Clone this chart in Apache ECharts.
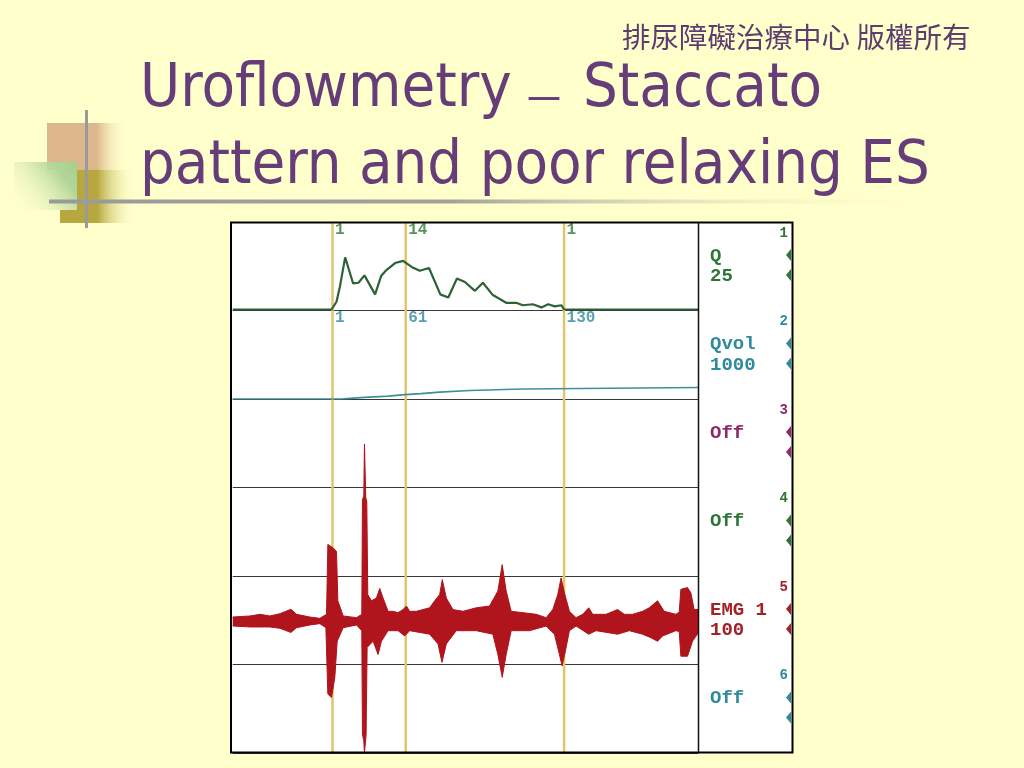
<!DOCTYPE html>
<html><head><meta charset="utf-8">
<script src="https://cdn.jsdelivr.net/npm/echarts@6/dist/echarts.min.js"></script>
<style>html,body{margin:0;padding:0;background:#ffffcc}#c{width:1024px;height:768px}</style>
</head><body><div id="c"></div>
<script>
// ---------- data (time in s) ----------
const flowTime = [0, 14.86, 15.6, 16.1, 16.9, 18.1, 18.9, 19.8, 21.4, 22.3, 23.1, 24.4, 25.6, 26.9, 28.1, 29.5, 31.2, 32.4, 33.7, 34.9, 36.4, 37.6, 39.1, 41.1, 42.6, 43.6, 45.1, 46.4, 47.4, 48.4, 49.4, 49.8, 70];
const flowRate = [0, 0, 2.2, 6.4, 14.8, 7.4, 7.6, 9.7, 4.3, 9.5, 11.2, 13.2, 13.8, 12.1, 11.0, 11.8, 4.3, 3.4, 8.8, 7.8, 5.3, 7.6, 4.1, 1.9, 1.9, 1.2, 1.5, 0.6, 1.5, 0.9, 1.2, 0, 0];

const volTime  = [0, 15.1, 16.6, 19.8, 23.4, 25.9, 28.3, 31.1, 35.6, 43.5, 70];
const volValue = [0, 1, 18, 33, 50, 61, 78, 96, 113, 130, 130];

const emgUpTime = [0, 2.6, 4.1, 5.6, 7.1, 8.75, 9.6, 11.6, 13.1, 14.1, 14.3, 15.1, 15.6, 15.8, 16.6, 18.6, 19.4, 19.5, 19.7, 19.8, 19.9, 20.0, 20.15, 20.3, 20.85, 21.6, 22.1, 22.6, 23.35, 24.1, 24.85, 25.6, 26.1, 26.6, 27.6, 29.6, 30.35, 31.1, 31.5, 32.1, 33.1, 34.6, 36.6, 38.6, 39.85, 40.5, 41.1, 41.85, 43.6, 45.6, 47.1, 48.1, 48.85, 49.35, 49.85, 50.6, 51.6, 52.6, 53.5, 54.1, 56.1, 57.85, 58.85, 60.1, 61.6, 62.6, 63.85, 64.85, 66.6, 67.1, 67.35, 68.35, 68.85, 69.35, 70];
const emgUp     = [4.5, 5.7, 7.6, 5.7, 8.3, 13.3, 7.6, 4.5, 3, 7.6, 87, 83, 79, 23, 5.7, 3.8, 7.6, 138, 142, 201, 201, 140, 136, 30, 23, 26, 37, 26, 11, 11, 9.5, 13, 17, 11, 11, 15, 23, 30, 47, 26, 13, 11, 15, 17, 34, 64, 34, 11, 9.5, 7.6, 3.8, 13, 30, 49, 32, 11, 3.8, 7.6, 15, 7.6, 7.6, 13, 7.6, 7.6, 11, 15, 23, 11, 7.6, 10, 36, 38, 32, 13, 13];

const emgLowTime = [0, 2.6, 5.6, 7.1, 8.75, 9.6, 11.6, 13.1, 14.0, 14.3, 14.85, 15.35, 15.7, 16.6, 18.6, 19.4, 19.5, 19.7, 19.8, 19.95, 20.05, 20.2, 21.1, 21.85, 22.35, 23.35, 24.85, 25.85, 26.6, 29.6, 30.85, 31.45, 32.1, 33.6, 36.6, 39.1, 39.85, 40.5, 41.1, 41.85, 44.6, 47.1, 48.35, 49.1, 49.5, 50.0, 50.6, 51.6, 53.5, 54.6, 57.85, 59.6, 61.6, 62.85, 63.85, 64.6, 66.6, 67.1, 67.35, 68.35, 69.1, 70];
const emgLow     = [-5.7, -6.8, -6.8, -8.3, -13, -7.6, -4.5, -3, -7.6, -83, -87, -64, -23, -7.6, -4.5, -11, -129, -136, -150, -150, -129, -30, -23, -38, -23, -11, -11, -17, -11, -15, -26, -47, -26, -11, -11, -15, -38, -64, -38, -11, -11, -5.7, -15, -38, -51, -34, -11, -5.7, -15, -11, -15, -11, -15, -19, -23, -17, -11, -12, -40, -40, -23, -13];

const cursorTimes = [15, 26, 49.8];
const cursorFlowLabels = ['1', '14', '1'];
const cursorVolLabels = ['1', '61', '130'];

const channelNames = [['Q', '25'], ['Qvol', '1000'], ['Off'], ['Off'], ['EMG 1', '100'], ['Off']];
const channelNumbers = ['1', '2', '3', '4', '5', '6'];
const channelColors = ['#2f7536', '#2f8a9c', '#8e2a6c', '#2f7536', '#a42126', '#2f8a9c'];

// ---------- layout ----------
const PLOT_L = 232.7, PLOT_R = 698.5, PANEL_T = 222, PANEL_B = 753, PANEL_R = 792.5;
const CH_H = (PANEL_B - PANEL_T) / 6;
const T_MAX = 70;
const PURPLE = '#663d79';
const zip = (a, b) => a.map((v, i) => [v, b[i]]);
const G = echarts.graphic;

const chart = echarts.init(document.getElementById('c'));

const graphic = [];
// decorations
graphic.push({ type: 'rect', z: 1, shape: { x: 47, y: 123, width: 80, height: 47 },
  style: { fill: new G.LinearGradient(0, 0, 1, 0, [{ offset: 0, color: '#dcb78c' }, { offset: 0.62, color: '#dcb78c' }, { offset: 1, color: 'rgba(255,255,204,0)' }]) } });
graphic.push({ type: 'rect', z: 2, shape: { x: 14, y: 162, width: 63, height: 48 },
  style: { fill: new G.LinearGradient(1, 0, 0, 1, [{ offset: 0, color: '#a6cf8a' }, { offset: 0.25, color: '#b2d598' }, { offset: 1, color: 'rgba(255,255,204,0)' }]) } });
graphic.push({ type: 'rect', z: 2, shape: { x: 77, y: 170, width: 58, height: 40 },
  style: { fill: new G.LinearGradient(0, 0, 1, 0, [{ offset: 0, color: '#b7a73f' }, { offset: 0.35, color: '#b7a73f' }, { offset: 1, color: 'rgba(255,255,204,0)' }]) } });
graphic.push({ type: 'rect', z: 2, shape: { x: 60, y: 210, width: 75, height: 13 },
  style: { fill: new G.LinearGradient(0, 0, 1, 0, [{ offset: 0, color: '#b7a73f' }, { offset: 0.5, color: '#b7a73f' }, { offset: 1, color: 'rgba(255,255,204,0)' }]) } });
graphic.push({ type: 'rect', z: 3, shape: { x: 85, y: 110, width: 3, height: 118 }, style: { fill: '#9a9a9a' } });
graphic.push({ type: 'rect', z: 3, shape: { x: 49, y: 199.5, width: 895, height: 4 },
  style: { fill: new G.LinearGradient(0, 0, 1, 0, [{ offset: 0, color: '#9a9a9a' }, { offset: 0.45, color: '#a2a29a' }, { offset: 1, color: 'rgba(255,255,204,0)' }]) } });

// texts
graphic.push({ type: 'text', z: 5, style: { text: '排尿障礙治療中心 版權所有', x: 622, y: 37, verticalAlign: 'middle', fill: '#5d3c70', font: '28.5px "Noto Sans CJK TC"' } });
const TITLE_FONT = '61px "DejaVu Sans Condensed", "DejaVu Sans"';
graphic.push({ type: 'text', z: 5, style: { text: 'Uroflowmetry', x: 140, y: 90, verticalAlign: 'middle', fill: PURPLE, font: TITLE_FONT } });
graphic.push({ type: 'text', z: 5, style: { text: '–', x: 529, y: 96, verticalAlign: 'middle', fill: PURPLE, font: '60px "Liberation Serif"' } });
graphic.push({ type: 'text', z: 5, style: { text: 'Staccato', x: 583, y: 90, verticalAlign: 'middle', fill: PURPLE, font: TITLE_FONT } });
graphic.push({ type: 'text', z: 5, style: { text: 'pattern and poor relaxing ES', x: 140, y: 167, verticalAlign: 'middle', fill: PURPLE, font: TITLE_FONT } });

// chart box (background on base layer, frame on top layer)
graphic.push({ type: 'rect', z: -5, shape: { x: 231, y: 222.5, width: PANEL_R - 231, height: 530 }, style: { fill: '#ffffff' } });
graphic.push({ type: 'rect', zlevel: 1, z: 50, shape: { x: 231, y: 222.5, width: PANEL_R - 231, height: 530 }, style: { fill: 'transparent', stroke: '#000', lineWidth: 2 } });
graphic.push({ type: 'line', zlevel: 1, z: 50, shape: { x1: PLOT_R, y1: 222.5, x2: PLOT_R, y2: 752.5 }, style: { stroke: '#111', lineWidth: 1.5 } });

// right panel
channelNames.forEach((names, i) => {
  const top = PANEL_T + i * CH_H;
  const col = channelColors[i];
  names.forEach((n, j) => {
    graphic.push({ type: 'text', z: 60, style: { text: n, x: 710, y: top + 34 + j * 20.5, verticalAlign: 'middle', fill: col, font: 'bold 19px "Liberation Mono"' } });
  });
  graphic.push({ type: 'text', z: 60, style: { text: channelNumbers[i], x: 788, y: top + 11, align: 'right', verticalAlign: 'middle', fill: col, font: 'bold 14px "Liberation Mono"' } });
  [33, 53].forEach(off => {
    graphic.push({ type: 'polygon', z: 40, shape: { points: [[786, top + off], [791, top + off - 6], [791, top + off + 6]] }, style: { fill: col } });
  });
});

const xAx = i => ({ type: 'value', gridIndex: i, min: 0, max: T_MAX, show: false });
const gridW = PLOT_R - PLOT_L;
const labelFont = { fontFamily: 'Liberation Mono', fontWeight: 'bold', fontSize: 16 };

// cursor vertical lines as broken line segments across all channels
const cursorSegments = [];
cursorTimes.forEach((t, i) => {
  if (i > 0) cursorSegments.push('-');
  cursorSegments.push([t, 0], [t, 6]);
});

const option = {
  backgroundColor: 'transparent',
  animation: false,
  grid: [
    { left: PLOT_L, width: gridW, top: 221.5, height: 88, outerBoundsMode: 'none' },
    { left: PLOT_L, width: gridW, top: 311, height: 88, outerBoundsMode: 'none' },
    { left: PLOT_L, width: gridW, top: 401, height: 352, outerBoundsMode: 'none' },
    { left: PLOT_L, width: gridW, top: PANEL_T, height: PANEL_B - PANEL_T, outerBoundsMode: 'none' }
  ],
  xAxis: [xAx(0), xAx(1), xAx(2), xAx(3)],
  yAxis: [
    { type: 'value', gridIndex: 0, min: 0, max: 25, show: false },
    { type: 'value', gridIndex: 1, min: 0, max: 1000, show: false },
    { type: 'value', gridIndex: 2, min: -150, max: 250, show: false },
    { type: 'value', gridIndex: 3, min: 0, max: 6, interval: 1, axisLine: { show: false }, axisTick: { show: false }, axisLabel: { show: false },
      splitLine: { show: true, lineStyle: { color: '#383838', width: 1.2 } } }
  ],
  series: [
    { type: 'line', xAxisIndex: 3, yAxisIndex: 3, z: 1, showSymbol: false, silent: true, connectNulls: false,
      data: cursorSegments, lineStyle: { color: '#e2c46c', width: 2.5 } },
    { type: 'scatter', xAxisIndex: 3, yAxisIndex: 3, zlevel: 1, z: 12, symbolSize: 1, itemStyle: { color: 'transparent' }, silent: true,
      data: cursorTimes.map((t, i) => ({ value: [t, 6 - 0.085], label: { formatter: cursorFlowLabels[i] } })),
      label: { show: true, position: 'right', distance: 2, color: '#2f7536', ...labelFont } },
    { type: 'scatter', xAxisIndex: 3, yAxisIndex: 3, zlevel: 1, z: 12, symbolSize: 1, itemStyle: { color: 'transparent' }, silent: true,
      data: cursorTimes.map((t, i) => ({ value: [t, 5 - 0.09], label: { formatter: cursorVolLabels[i] } })),
      label: { show: true, position: 'right', distance: 2, color: '#2f8a9c', ...labelFont } },
    { type: 'line', xAxisIndex: 0, yAxisIndex: 0, zlevel: 1, z: 10, showSymbol: false, data: zip(flowTime, flowRate),
      lineStyle: { color: '#2c6236', width: 2.2 } },
    { type: 'line', xAxisIndex: 1, yAxisIndex: 1, zlevel: 1, z: 10, showSymbol: false, step: 'end', data: zip(volTime, volValue),
      lineStyle: { color: '#3d8f9b', width: 1.6 } },
    { type: 'line', xAxisIndex: 2, yAxisIndex: 2, zlevel: 1, z: 10, showSymbol: false, data: zip(emgUpTime, emgUp),
      lineStyle: { color: '#b0141c', width: 1 }, areaStyle: { color: '#b0141c', opacity: 1 } },
    { type: 'line', xAxisIndex: 2, yAxisIndex: 2, zlevel: 1, z: 10, showSymbol: false, data: zip(emgLowTime, emgLow),
      lineStyle: { color: '#b0141c', width: 1 }, areaStyle: { color: '#b0141c', opacity: 1 } }
  ],
  graphic: { elements: graphic }
};
chart.setOption(option);
</script></body></html>
